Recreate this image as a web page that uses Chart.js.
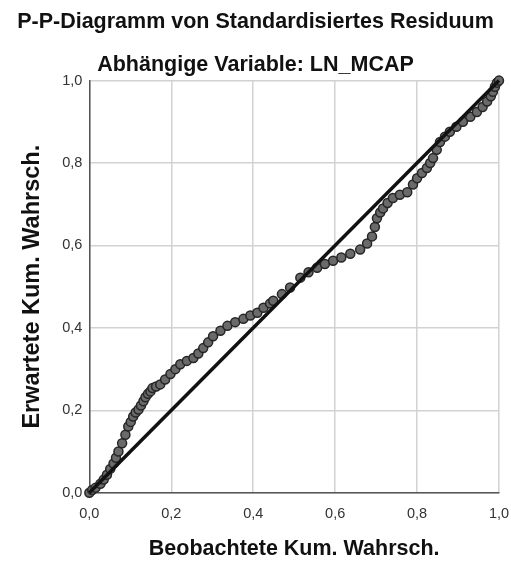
<!DOCTYPE html>
<html lang="de">
<head>
  <meta charset="UTF-8">
  <title>P-P-Diagramm</title>
  <script src="https://cdn.jsdelivr.net/npm/chart.js"></script>
  <style>
    html, body { margin: 0; padding: 0; background: #fff; }
    #wrap { width: 511px; height: 562px; }
  </style>
</head>
<body>
  <div id="wrap"><canvas id="ppChart" width="511" height="562"></canvas></div>

  <script>
    const observed = [
      0.000, 0.007, 0.015, 0.027, 0.035, 0.043, 0.051, 0.059, 0.065, 0.071,
      0.080, 0.088, 0.095, 0.101, 0.107, 0.113, 0.120, 0.126, 0.132, 0.137,
      0.143, 0.149, 0.154, 0.163, 0.173, 0.185, 0.198, 0.210, 0.222, 0.238,
      0.254, 0.266, 0.278, 0.290, 0.302, 0.320, 0.337, 0.356, 0.376, 0.393,
      0.410, 0.425, 0.441, 0.449, 0.470, 0.490, 0.515, 0.535, 0.556, 0.575,
      0.595, 0.615, 0.637, 0.661, 0.678, 0.690, 0.697, 0.702, 0.710, 0.717,
      0.728, 0.741, 0.758, 0.776, 0.790, 0.800, 0.812, 0.824, 0.832, 0.839,
      0.848, 0.856, 0.868, 0.880, 0.896, 0.912, 0.930, 0.946, 0.960, 0.971,
      0.980, 0.985, 0.990, 0.995, 1.000
    ];
    const expected = [
      0.000, 0.007, 0.012, 0.022, 0.032, 0.044, 0.058, 0.071, 0.085, 0.100,
      0.120, 0.141, 0.161, 0.172, 0.185, 0.195, 0.202, 0.212, 0.222, 0.232,
      0.240, 0.246, 0.254, 0.258, 0.263, 0.275, 0.288, 0.300, 0.312, 0.320,
      0.327, 0.338, 0.351, 0.365, 0.380, 0.393, 0.405, 0.414, 0.422, 0.430,
      0.437, 0.449, 0.459, 0.466, 0.482, 0.498, 0.522, 0.535, 0.546, 0.555,
      0.563, 0.571, 0.580, 0.590, 0.605, 0.622, 0.645, 0.666, 0.680, 0.690,
      0.703, 0.715, 0.723, 0.729, 0.748, 0.763, 0.776, 0.788, 0.800, 0.812,
      0.832, 0.851, 0.864, 0.876, 0.888, 0.900, 0.912, 0.924, 0.936, 0.949,
      0.962, 0.973, 0.985, 0.995, 1.000
    ];
    const diagonal = [0, 1];
    const tickValues = [0, 0.2, 0.4, 0.6, 0.8, 1.0];

    const points = observed.map((x, i) => ({ x: x, y: expected[i] }));
    const fmt = v => Number(v).toFixed(1).replace('.', ',');
    const font = 'Liberation Sans, Arial, sans-serif';

    new Chart(document.getElementById('ppChart'), {
      type: 'scatter',
      data: {
        datasets: [
          {
            label: 'Diagonale',
            data: diagonal.map(v => ({ x: v, y: v })),
            showLine: true,
            borderColor: '#111',
            borderWidth: 3.5,
            pointRadius: 0,
            order: 0
          },
          {
            label: 'Residuum',
            data: points,
            pointRadius: 4.5,
            pointBackgroundColor: '#6a6a6a',
            pointBorderColor: '#262626',
            pointBorderWidth: 1.5,
            order: 1
          }
        ]
      },
      options: {
        responsive: false,
        animation: false,
        clip: false,
        layout: { padding: { left: 10, right: 10, top: 0, bottom: 0 } },
        plugins: {
          legend: { display: false },
          tooltip: { enabled: false },
          title: {
            display: true,
            text: 'P-P-Diagramm von Standardisiertes Residuum',
            color: '#111',
            font: { family: font, size: 21.5, weight: 'bold' },
            padding: { top: 9, bottom: 9 }
          },
          subtitle: {
            display: true,
            text: 'Abhängige Variable: LN_MCAP',
            color: '#111',
            font: { family: font, size: 21.5, weight: 'bold' },
            padding: { top: 8, bottom: 3 }
          }
        },
        scales: {
          x: {
            type: 'linear',
            min: 0,
            max: 1,
            afterBuildTicks: s => { s.ticks = tickValues.map(v => ({ value: v })); },
            // keep the right edge of the plot close to the canvas edge
            afterFit: s => { s.paddingRight = 12; },
            ticks: { color: '#333', font: { family: font, size: 14.5 }, padding: 12, callback: fmt },
            grid: { color: '#d2d2d2', lineWidth: 1.5, drawTicks: false },
            border: { color: '#555', width: 1.5 },
            title: {
              display: true,
              text: 'Beobachtete Kum. Wahrsch.',
              color: '#111',
              font: { family: font, size: 21.5, weight: 'bold' },
              padding: { top: 2, bottom: 0 }
            }
          },
          y: {
            type: 'linear',
            min: 0,
            max: 1,
            afterBuildTicks: s => { s.ticks = tickValues.map(v => ({ value: v })); },
            ticks: { color: '#333', font: { family: font, size: 14.5 }, padding: 7, callback: fmt },
            grid: { color: '#d2d2d2', lineWidth: 1.5, drawTicks: false },
            border: { color: '#555', width: 1.5 },
            title: {
              display: true,
              text: 'Erwartete Kum. Wahrsch.',
              color: '#111',
              font: { family: font, size: 23.5, weight: 'bold' },
              padding: { top: 8, bottom: 9 }
            }
          }
        }
      }
    });
  </script>
</body>
</html>
